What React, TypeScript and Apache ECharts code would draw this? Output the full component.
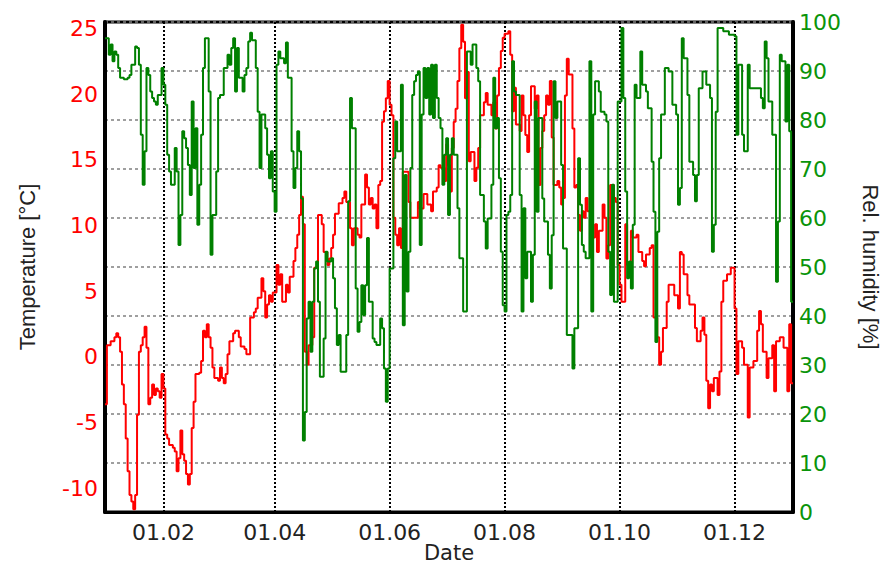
import React, { useEffect, useRef } from "react";
import * as echarts from "echarts";

// x axis: day of year (0 = 1 Jan)
const tickDays = [31, 90, 151, 212, 273, 334];
const tickLabels = ["01.02", "01.04", "01.06", "01.08", "01.10", "01.12"];
const tempTicks = [-10, -5, 0, 5, 10, 15, 20, 25];

const tempDays = [
  0, 1, 3, 5, 6, 7, 8, 9, 10, 11, 12, 13, 14, 15, 16, 17, 18, 19, 20, 21, 22, 23, 24, 25, 26, 27, 28, 29, 30,
  31, 32, 33, 34, 36, 37, 38, 39, 40, 41, 42, 43, 44, 45, 46, 47, 48, 50, 51, 52, 53, 54, 55, 56, 57, 58, 60,
  61, 62, 63, 64, 65, 66, 68, 69, 71, 72, 74, 75, 77, 79, 80, 81, 83, 84, 85, 86, 87, 88, 89, 91, 92, 93, 94,
  96, 97, 98, 100, 101, 102, 103, 104, 105, 106, 107, 108, 110, 111, 113, 115, 116, 118, 119, 120,
  121, 122, 124, 126, 127, 128, 130, 131, 132, 134, 135, 136, 138, 139, 140, 141, 142, 143, 144, 145, 146,
  147, 148, 149, 150, 151, 152, 153, 154, 155, 156, 157, 158, 160, 161, 162, 165, 166, 167, 169, 171, 173,
  174, 176, 177, 178, 180, 181, 182, 183, 184, 185, 186, 187, 188, 189, 190, 191, 192, 193, 194, 196, 197,
  198, 199, 201, 202, 203, 205, 206, 207, 208, 209, 210, 211, 212, 214, 215, 216, 217, 218, 220, 221, 222,
  223, 224, 225, 226, 228, 229, 230, 231, 232, 233, 234, 235, 236, 237, 238, 240, 241, 242,
  243, 244, 245, 246, 248, 249, 250, 251, 252, 253, 254, 255, 256, 258, 260, 261, 262, 264, 265, 266, 267,
  268, 270, 271, 272, 273, 274, 276, 277, 279, 280, 282, 283, 285, 286, 287, 289, 290, 291, 293, 294, 295,
  296, 298, 299, 301, 302, 304, 305, 306, 307, 309, 310, 312, 313, 314, 316, 317, 318, 319, 320, 321, 322,
  323, 325, 326, 327, 328, 330, 332, 334, 335, 336, 338, 339, 341, 342, 344, 346, 347, 348, 349, 351, 352,
  354, 355, 356, 358, 360, 362, 363, 364, 365,
];
const tempValues = [
  -3.6, 0.9, 1.2, 1.5, 1.8, 1.5, 0.4, -2.1, -3.6, -6.2, -8.7, -10.5, -11.0, -11.6, -10.5, -4.4, 0.4, 0.9, 1.5,
  2.3, 0.7, -3.6, -3.1, -2.1, -2.9, -2.4, -2.6, -3.1, -1.3,
  -2.4, -5.9, -6.2, -6.7, -6.9, -7.2, -8.7, -7.7, -5.6, -7.4, -7.9, -8.9, -9.7, -8.9, -5.4, -3.4, -1.3, -1.2,
  -0.3, 2.0, 1.5, 2.5, 1.5, 0.7, -0.8, -1.6, -1.8,
  -0.8, -1.6, -2.0, -1.3, 0.2, 1.2, 1.8, 2.0, 1.5, 0.8, 0.6, 0.2, 3.0, 3.4, 3.7, 4.5, 6.0, 5.0, 3.0, 4.0, 4.7,
  4.2, 4.9, 7.0, 5.5, 6.3, 4.2,
  5.5, 4.9, 6.1, 7.3, 8.3, 9.3, 10.8, 12.2, 10.1, 0.4, -0.6, 0.9, 1.5, 6.8, 10.8, 10.1, 8.0, 7.0, 7.5, 8.3,
  9.3, 10.9, 11.7, 12.1, 12.6, 11.8, 9.8, 8.5, 9.8, 9.3, 9.1, 11.6, 13.9, 12.9, 11.6, 12.1, 11.3, 11.6, 9.8,
  13.1, 13.4,
  17.9, 18.7, 19.7, 21.0, 19.2, 18.4, 10.6, 9.3, 8.5, 9.8, 8.3, 14.1, 14.1, 11.8, 10.6, 10.6, 11.8, 11.3,
  12.4, 11.6, 11.1,
  12.6, 12.9, 14.6, 14.4, 13.4, 16.2, 14.6, 12.6, 15.9, 17.9, 18.9, 21.0, 23.5, 25.3, 24.0, 19.7, 21.7, 14.9,
  15.6, 13.4, 14.4,
  15.9, 18.4, 19.4, 20.1, 19.2, 18.4, 19.4, 17.4, 19.9, 22.0, 23.3, 24.3, 24.6, 24.8, 23.0, 18.7, 20.5, 17.7,
  17.2, 19.9, 18.4,
  16.9, 15.6, 18.4, 20.6, 18.9, 19.9, 13.1, 15.9, 17.2, 18.4, 19.9, 19.2, 21.0, 16.7, 13.1, 13.4, 12.9, 11.6,
  12.1, 19.9, 22.7, 21.5, 17.4, 12.9, 13.1, 10.8, 9.6, 11.1, 10.6, 12.1, 11.1, 9.1, 10.1, 8.0, 9.6, 11.6,
  10.6, 7.5, 8.5,
  13.1, 12.1, 11.8, 7.0, 5.5, 4.2, 10.1, 7.0, 9.6, 9.1, 9.3, 8.0, 7.3, 6.9, 7.8, 8.3, 8.5, 3.0, 1.5, -0.6,
  0.4,
  2.2, 4.2, 5.5, 5.5, 4.7, 3.7, 8.0, 7.8, 6.3, 4.7, 4.0, 4.0, 2.2, 1.2, 2.0, 3.0, 1.7, -1.8, -3.9, -2.1, -2.6,
  -1.6, -2.9, -1.1, 4.2, 5.8, 6.3, 6.8, 3.7, -1.3, 1.2, 0.7, -0.6, -4.6, -0.8, -0.3, 2.0, 3.5, 2.5, 0.4,
  -1.6, -0.1,
  0.9, -2.6, 1.2, 1.5, 0.7, -2.6, 2.5, -2.0, -2.0,
];

const humDays = [
  0, 1, 2, 3, 4, 5, 6, 7, 8, 10, 11, 12, 13, 14, 16, 17, 18, 19, 20, 21, 22, 23, 24, 25, 26, 27, 28, 30, 31,
  32, 33, 34, 35, 37, 38, 39, 40, 41, 42, 43, 44, 45, 46, 47, 48, 49, 50, 51, 52, 53, 54, 55, 56, 57, 59, 60,
  61, 63, 65, 66, 67, 68, 69, 70, 71, 73, 74, 75, 76, 77, 78, 80, 81, 82, 83, 85, 86, 87, 88, 89, 90, 91, 92,
  93, 95, 96, 97, 99, 100, 101, 102, 103, 104, 105, 106, 107, 108, 109, 110, 111, 112, 113, 114, 116, 117,
  118, 120, 121, 122, 123, 124, 125, 127, 128, 129, 130, 131, 132, 133, 134, 135, 136, 137, 138, 139, 140,
  142, 143, 144, 146, 147, 148, 149, 150, 151, 153, 154, 155, 157, 158, 159, 160, 161, 162, 163, 164, 165,
  166, 167, 168, 169, 170, 171, 172, 173, 174, 175, 176, 177, 178, 179, 180, 181, 182, 183, 184, 185, 187,
  188, 189, 190, 191, 192, 194, 195, 197, 198, 199, 201, 202, 203, 205, 206, 207, 208, 209, 210, 211, 212,
  213, 214, 215, 216, 217, 218, 220, 221, 222, 223, 224, 226, 227, 228, 229, 230, 232, 233, 235, 236, 237,
  238, 239, 240, 242, 243, 245, 248, 249, 251, 252, 253, 254, 255, 257, 258, 259, 260, 262, 263, 265, 266,
  267, 268, 269, 270, 271, 272, 274, 275, 276, 277, 278, 279, 280, 281, 282, 284, 285, 287, 288, 290, 291,
  292, 293, 294, 295, 297, 299, 301, 303, 304, 305, 306, 307, 309, 310, 312, 313, 314, 315, 317, 319, 321,
  322, 323, 324, 325, 328, 331, 334, 335, 336, 338, 339, 341, 342, 344, 346, 348, 349, 350, 351, 352, 354,
  356, 357, 358, 359, 361, 362, 363, 364, 365,
];
const humValues = [
  96.7, 96.7, 93.3, 95.4, 92.0, 94.0, 93.3, 90.6, 88.6, 88.3, 88.3, 88.6, 89.2, 91.3, 95.0, 94.7, 91.3, 77.0,
  66.8, 73.6, 90.6, 89.2, 85.8, 84.5, 83.8, 83.1, 85.1, 90.6, 87.2,
  83.1, 72.9, 69.5, 66.8, 74.3, 69.5, 54.5, 60.6, 77.7, 76.3, 74.3, 70.8, 64.7, 83.8, 70.2, 78.3, 58.6, 66.8,
  77.0, 90.6, 96.7, 96.7, 85.8, 52.5, 60.6, 69.5, 84.5,
  85.1, 90.6, 93.3, 91.3, 94.7, 96.7, 85.8, 94.7, 88.6, 85.8, 89.2, 90.6, 96.0, 97.8, 96.3, 90.6, 81.7, 70.2,
  81.1, 78.3, 72.9, 68.1, 73.6, 65.4, 61.3, 91.3, 94.0,
  92.6, 91.6, 95.8, 88.6, 73.6, 66.1, 70.2, 77.7, 73.6, 64.0, 14.6, 20.4, 39.5, 42.9, 32.7, 42.9, 49.7, 51.1,
  42.9, 27.6, 35.4, 53.1,
  51.1, 51.8, 47.7, 41.6, 34.1, 36.1, 28.6, 28.6, 36.1, 63.4, 84.5, 78.3, 78.3, 45.6, 36.8, 38.8, 46.3, 40.2,
  46.3, 55.9, 42.9,
  35.4, 34.7, 34.1, 39.5, 37.5, 29.3, 22.5, 29.3, 49.7, 72.2, 79.7, 73.6, 87.2, 38.1, 68.8, 45.0, 53.1, 70.2,
  85.1, 87.9, 89.2,
  89.9, 54.5, 81.1, 90.6, 84.5, 90.6, 81.1, 91.3, 80.4, 91.3, 84.5, 80.4, 78.3, 66.8, 72.9, 76.3, 60.6, 72.9,
  76.3, 72.9, 62.0,
  51.8, 51.8, 40.9, 40.9, 94.0, 91.3, 95.4, 90.6, 87.9, 64.7, 59.3, 53.8, 59.9, 66.8, 88.6, 78.3, 80.4, 68.1,
  53.1, 42.2, 40.9,
  60.6, 61.3, 64.7, 92.0, 85.8, 85.1, 64.7, 40.9, 62.0, 47.7, 53.1, 42.9, 52.5, 83.8, 61.3, 80.4, 64.0, 59.3,
  52.5, 45.6, 56.5,
  87.9, 80.4, 83.8, 70.8, 53.8, 36.1, 29.3, 37.5, 72.2, 62.7, 54.5, 53.1, 51.8, 92.0, 40.9, 81.1, 87.9, 85.8,
  81.7, 81.1, 79.7,
  53.1, 44.3, 66.8, 42.9, 42.9, 83.8, 98.8, 84.5, 65.4, 47.7, 51.1, 45.6, 58.6, 87.2, 84.5, 94.0, 87.2, 85.8,
  82.4, 71.5, 61.3,
  34.7, 57.2, 72.2, 81.1, 90.6, 89.9, 83.1, 81.1, 62.7, 66.1, 96.7, 92.6, 85.1, 71.5, 68.8, 63.4, 68.8, 86.5,
  89.9, 87.2, 84.5,
  53.1, 58.6, 81.7, 98.8, 98.1, 97.4, 97.1, 77.0, 91.3, 77.0, 73.6, 91.3, 86.5, 86.5, 86.5, 84.5, 82.4, 96.0,
  92.6, 83.8, 77.0,
  47.0, 59.3, 93.3, 92.0, 79.7, 91.3, 77.7, 42.9, 42.9,
];

const tempData = tempDays.map((d, i) => [d, tempValues[i]]);
const humData = humDays.map((d, i) => [d, humValues[i]]);

export default function App() {
  const ref = useRef<HTMLDivElement>(null);

  useEffect(() => {
    if (!ref.current) return;
    const chart = echarts.init(ref.current, null, { renderer: "svg" });
    const tickFont = "DejaVu Sans";
    const titleFont = "Liberation Sans, Arial, sans-serif";
    chart.setOption({
      animation: false,
      backgroundColor: "#ffffff",
      grid: {
        left: 105,
        right: 97,
        top: 22,
        bottom: 54,
        outerBoundsMode: "none",
        containLabel: false,
        show: true,
        borderColor: "#000",
        borderWidth: 3,
        backgroundColor: "transparent",
      },
      xAxis: {
        type: "value",
        min: 0,
        max: 365,
        name: "Date",
        nameLocation: "middle",
        nameGap: 30,
        nameMoveOverlap: false,
        nameTextStyle: { fontFamily: tickFont, fontSize: 21, color: "#222", lineHeight: 22 },
        axisLine: { show: true, onZero: false, lineStyle: { color: "#000", width: 3 } },
        axisTick: { show: false, customValues: tickDays },
        axisLabel: {
          customValues: tickDays,
          formatter: (v: number) => {
            const i = tickDays.indexOf(Math.round(v));
            return i >= 0 ? tickLabels[i] : "";
          },
          fontFamily: tickFont,
          fontSize: 22,
          color: "#222",
          margin: 9,
        },
        splitLine: { show: true, lineStyle: { color: "#000", width: 2, type: [2, 2] } },
      },
      yAxis: [
        {
          type: "value",
          position: "left",
          min: -11.8,
          max: 25.5,
          name: "Temperature [°C]",
          nameLocation: "middle",
          nameRotate: 90,
          nameGap: 67,
          nameTextStyle: { fontFamily: titleFont, fontSize: 22, color: "#222" },
          axisLine: { show: true, onZero: false, lineStyle: { color: "#000", width: 4 } },
          axisTick: { show: false, customValues: tempTicks },
          axisLabel: {
            customValues: tempTicks,
            fontFamily: tickFont,
            fontSize: 22,
            color: "#ff0000",
            margin: 7,
          },
          splitLine: { show: false },
        },
        {
          type: "value",
          position: "right",
          min: 0,
          max: 100,
          interval: 10,
          name: "Rel. humidity [%]",
          nameLocation: "middle",
          nameRotate: -90,
          nameGap: 66,
          nameTextStyle: { fontFamily: titleFont, fontSize: 22, color: "#222" },
          axisLine: { show: true, onZero: false, lineStyle: { color: "#000", width: 4 } },
          axisTick: { show: false },
          axisLabel: {
            fontFamily: tickFont,
            fontSize: 22,
            color: "#0a940a",
            margin: 6,
          },
          splitLine: { show: true, lineStyle: { color: "#808080", width: 1.5, type: [3, 3] } },
        },
      ],
      series: [
        {
          name: "Temperature",
          type: "line",
          yAxisIndex: 0,
          step: "end",
          data: tempData,
          showSymbol: false,
          lineStyle: { color: "#ff0000", width: 2 },
          itemStyle: { color: "#ff0000" },
          z: 3,
        },
        {
          name: "Rel. humidity",
          type: "line",
          yAxisIndex: 1,
          step: "end",
          data: humData,
          showSymbol: false,
          lineStyle: { color: "#008000", width: 2 },
          itemStyle: { color: "#008000" },
          z: 4,
        },
      ],
    });
    return () => chart.dispose();
  }, []);

  return (
    <div
      ref={ref}
      style={{ position: "fixed", left: 0, top: 0, width: 890, height: 566, background: "#fff" }}
    />
  );
}
